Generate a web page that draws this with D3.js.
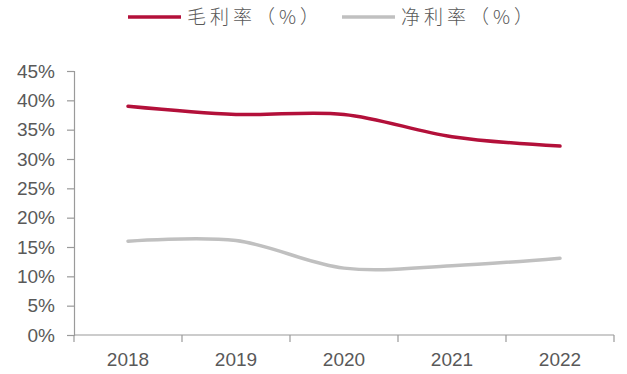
<!DOCTYPE html>
<html>
<head>
<meta charset="utf-8">
<script src="https://cdn.jsdelivr.net/npm/d3@7"></script>
<style>
  html, body { margin: 0; padding: 0; background: #fff; }
  svg { display: block; }
</style>
</head>
<body>
<svg id="chart" width="627" height="374"></svg>
<script>
// Years along the x axis
const years = ["2018", "2019", "2020", "2021", "2022"];
// Gross margin (%)
const grossMargin = [39.0, 37.6, 37.6, 33.8, 32.2];
// Net margin (%)
const netMargin = [16.0, 16.1, 11.4, 11.8, 13.1];
// Y axis tick values (%)
const yTicks = [0, 5, 10, 15, 20, 25, 30, 35, 40, 45];
// Legend labels
const seriesNames = ["毛利率（%）", "净利率（%）"];
const seriesColors = ["#b3103a", "#c0c0c0"];

const svg = d3.select("#chart");
const axisColor = "#9a9a9a";
const textColor = "#595959";

const x = d3.scaleBand().domain(years).range([74, 614]).paddingInner(0).paddingOuter(0);
const y = d3.scaleLinear().domain([0, 45]).range([335, 71]);

// Y axis
const yAxis = svg.append("g")
  .attr("transform", "translate(74,0)")
  .call(d3.axisLeft(y).tickValues(yTicks).tickFormat(d => d + "%").tickSize(7).tickPadding(12));
yAxis.select(".domain").attr("stroke", axisColor).attr("stroke-width", 1.2);
yAxis.selectAll(".tick line").attr("stroke", axisColor).attr("stroke-width", 1.2);
yAxis.selectAll(".tick text")
  .attr("fill", textColor)
  .style("font-family", "'Liberation Sans', Arial, sans-serif")
  .style("font-size", "19px");

// X axis with ticks at band boundaries
const xAxisG = svg.append("g").attr("transform", "translate(0,335)");
xAxisG.append("line")
  .attr("x1", x.range()[0]).attr("x2", x.range()[1])
  .attr("stroke", axisColor).attr("stroke-width", 1.2);
const boundaries = years.map(d => x(d)).concat([x.range()[1]]);
xAxisG.selectAll("line.tk").data(boundaries).enter().append("line")
  .attr("class", "tk")
  .attr("x1", d => d).attr("x2", d => d)
  .attr("y1", 0).attr("y2", 7)
  .attr("stroke", axisColor).attr("stroke-width", 1.2);
xAxisG.selectAll("text").data(years).enter().append("text")
  .attr("x", d => x(d) + x.bandwidth() / 2)
  .attr("y", 31)
  .attr("text-anchor", "middle")
  .attr("fill", textColor)
  .style("font-family", "'Liberation Sans', Arial, sans-serif")
  .style("font-size", "19px")
  .text(d => d);

// Smoothed lines
const line = d3.line()
  .x((d, i) => x(years[i]) + x.bandwidth() / 2)
  .y(d => y(d))
  .curve(d3.curveCatmullRom.alpha(0));

[grossMargin, netMargin].forEach((vals, i) => {
  svg.append("path")
    .datum(vals)
    .attr("d", line)
    .attr("fill", "none")
    .attr("stroke", seriesColors[i])
    .attr("stroke-width", 3.5)
    .attr("stroke-linecap", "round");
});

// Legend
const legendX = [128, 342];
seriesNames.forEach((name, i) => {
  const g = svg.append("g").attr("transform", `translate(${legendX[i]},17)`);
  g.append("line")
    .attr("x1", 0).attr("x2", 53)
    .attr("stroke", seriesColors[i]).attr("stroke-width", 3.5);
  g.append("text")
    .attr("x", 59).attr("y", 7)
    .attr("fill", textColor)
    .style("font-family", "'Noto Sans CJK SC', sans-serif")
    .style("font-size", "19px")
    .style("font-weight", "300")
    .style("letter-spacing", "4px")
    .text(name);
});
</script>
</body>
</html>
